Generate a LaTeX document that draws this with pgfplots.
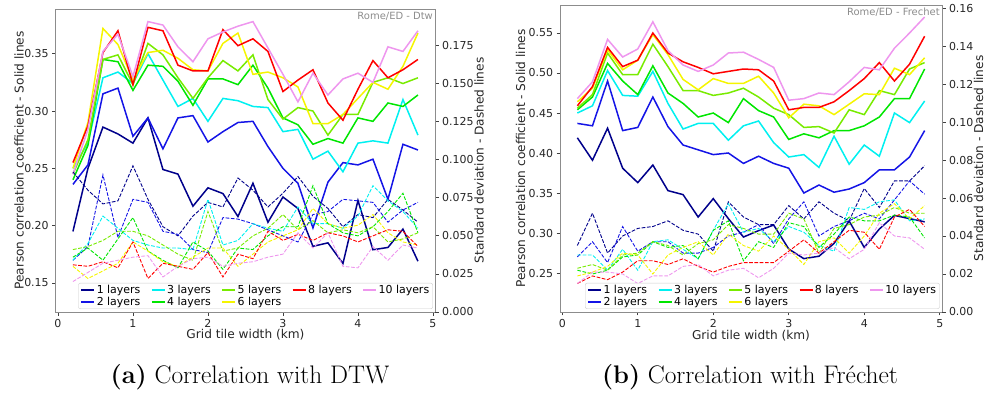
\documentclass[border=0pt]{standalone}
\usepackage{fontspec}
\setsansfont{DejaVu Sans}
\usepackage{pgfplots}
\usepackage{pgfplotstable}
\pgfplotsset{compat=1.18}

\definecolor{c1}{RGB}{0,0,139}
\definecolor{c2}{RGB}{20,20,230}
\definecolor{c3}{RGB}{0,240,240}
\definecolor{c4}{RGB}{0,230,0}
\definecolor{c5}{RGB}{120,235,0}
\definecolor{c6}{RGB}{245,245,0}
\definecolor{c8}{RGB}{255,0,0}
\definecolor{c10}{RGB}{238,150,238}

\pgfplotstableread{
x s1 s2 s3 s4 s5 s6 s8 s10
0.2 0.195 0.236 0.250 0.240 0.245 0.250 0.255 0.245
0.4 0.250 0.253 0.272 0.270 0.275 0.290 0.287 0.284
0.6 0.286 0.315 0.329 0.345 0.345 0.372 0.351 0.352
0.8 0.280 0.320 0.334 0.343 0.349 0.358 0.370 0.367
1.0 0.272 0.278 0.324 0.318 0.323 0.327 0.323 0.330
1.2 0.294 0.294 0.350 0.340 0.359 0.351 0.373 0.378
1.4 0.249 0.267 0.327 0.339 0.349 0.353 0.370 0.375
1.6 0.245 0.294 0.304 0.326 0.329 0.346 0.340 0.356
1.8 0.217 0.296 0.311 0.305 0.311 0.336 0.335 0.343
2.0 0.233 0.273 0.291 0.328 0.329 0.335 0.335 0.363
2.2 0.228 0.282 0.311 0.328 0.344 0.359 0.371 0.369
2.4 0.208 0.290 0.309 0.323 0.335 0.368 0.357 0.374
2.6 0.237 0.291 0.304 0.340 0.349 0.332 0.363 0.378
2.8 0.203 0.269 0.303 0.320 0.310 0.334 0.352 0.355
3.0 0.225 0.250 0.282 0.294 0.293 0.329 0.317 0.332
3.2 0.215 0.237 0.284 0.288 0.303 0.321 0.327 0.308
3.4 0.182 0.198 0.258 0.271 0.300 0.289 0.336 0.333
3.6 0.185 0.238 0.265 0.276 0.279 0.289 0.307 0.314
3.8 0.167 0.255 0.247 0.272 0.297 0.297 0.292 0.328
4.0 0.222 0.253 0.272 0.294 0.297 0.311 0.319 0.333
4.2 0.179 0.258 0.274 0.291 0.325 0.325 0.344 0.325
4.4 0.181 0.223 0.272 0.307 0.329 0.319 0.329 0.356
4.6 0.197 0.271 0.310 0.304 0.324 0.339 0.336 0.352
4.8 0.169 0.266 0.279 0.314 0.329 0.368 0.345 0.370
}\dtwS

\pgfplotstableread{
x d1 d2 d3 d4 d5 d6 d8 d10
0.2 0.092 0.034 0.034 0.036 0.041 0.030 0.031 0.020
0.4 0.080 0.043 0.045 0.042 0.043 0.022 0.030 0.026
0.6 0.071 0.090 0.063 0.034 0.047 0.027 0.033 0.032
0.8 0.073 0.049 0.055 0.048 0.053 0.032 0.029 0.034
1.0 0.096 0.074 0.047 0.062 0.053 0.046 0.046 0.036
1.2 0.074 0.072 0.044 0.040 0.050 0.040 0.022 0.037
1.4 0.056 0.053 0.042 0.034 0.044 0.033 0.032 0.023
1.6 0.050 0.051 0.042 0.029 0.038 0.030 0.030 0.030
1.8 0.063 0.041 0.041 0.046 0.034 0.036 0.028 0.035
2.0 0.072 0.039 0.074 0.040 0.066 0.042 0.039 0.036
2.2 0.069 0.062 0.044 0.028 0.040 0.042 0.023 0.030
2.4 0.088 0.061 0.047 0.042 0.042 0.030 0.038 0.032
2.6 0.080 0.058 0.058 0.041 0.050 0.038 0.035 0.033
2.8 0.069 0.054 0.055 0.050 0.055 0.046 0.053 0.036
3.0 0.078 0.050 0.053 0.056 0.064 0.050 0.047 0.038
3.2 0.089 0.046 0.069 0.056 0.054 0.054 0.051 0.052
3.4 0.076 0.064 0.058 0.083 0.060 0.068 0.047 0.042
3.6 0.068 0.066 0.058 0.058 0.052 0.058 0.052 0.052
3.8 0.056 0.074 0.055 0.052 0.054 0.055 0.050 0.030
4.0 0.064 0.073 0.063 0.050 0.052 0.057 0.046 0.029
4.2 0.062 0.072 0.083 0.056 0.056 0.064 0.050 0.043
4.4 0.074 0.059 0.073 0.066 0.046 0.052 0.054 0.034
4.6 0.067 0.067 0.066 0.078 0.048 0.046 0.053 0.044
4.8 0.059 0.072 0.055 0.052 0.052 0.044 0.043 0.042
}\dtwD

\pgfplotstableread{
x s1 s2 s3 s4 s5 s6 s8 s10
0.2 0.419 0.437 0.450 0.454 0.456 0.464 0.459 0.468
0.4 0.391 0.434 0.459 0.470 0.473 0.481 0.483 0.489
0.6 0.431 0.490 0.503 0.512 0.525 0.529 0.532 0.542
0.8 0.381 0.428 0.472 0.490 0.498 0.504 0.508 0.520
1.0 0.363 0.432 0.471 0.473 0.498 0.516 0.516 0.530
1.2 0.385 0.470 0.502 0.509 0.536 0.548 0.550 0.564
1.4 0.353 0.433 0.462 0.475 0.508 0.523 0.525 0.528
1.6 0.348 0.410 0.430 0.462 0.478 0.492 0.514 0.510
1.8 0.320 0.404 0.437 0.445 0.478 0.479 0.507 0.502
2.0 0.343 0.398 0.437 0.450 0.472 0.493 0.499 0.510
2.2 0.318 0.400 0.416 0.438 0.475 0.487 0.502 0.525
2.4 0.295 0.387 0.434 0.468 0.481 0.487 0.505 0.526
2.6 0.303 0.396 0.440 0.453 0.470 0.496 0.504 0.517
2.8 0.310 0.387 0.413 0.445 0.456 0.475 0.490 0.507
3.0 0.280 0.381 0.395 0.417 0.448 0.444 0.454 0.466
3.2 0.268 0.350 0.398 0.424 0.432 0.461 0.457 0.468
3.4 0.271 0.360 0.382 0.419 0.433 0.459 0.457 0.475
3.6 0.287 0.351 0.421 0.428 0.425 0.448 0.464 0.473
3.8 0.315 0.355 0.386 0.428 0.454 0.461 0.478 0.489
4.0 0.282 0.363 0.410 0.434 0.448 0.474 0.493 0.507
4.2 0.305 0.379 0.396 0.445 0.478 0.473 0.513 0.504
4.4 0.322 0.379 0.450 0.468 0.473 0.506 0.490 0.531
4.6 0.318 0.395 0.438 0.468 0.505 0.498 0.511 0.550
4.8 0.314 0.428 0.465 0.505 0.513 0.519 0.546 0.570
}\frS

\pgfplotstableread{
x d1 d2 d3 d4 d5 d6 d8 d10
0.2 0.035 0.029 0.030 0.022 0.023 0.019 0.015 0.015
0.4 0.052 0.037 0.030 0.020 0.025 0.021 0.019 0.021
0.6 0.031 0.026 0.022 0.022 0.022 0.024 0.017 0.021
0.8 0.040 0.045 0.033 0.029 0.030 0.031 0.021 0.020
1.0 0.044 0.032 0.022 0.030 0.031 0.030 0.027 0.015
1.2 0.045 0.037 0.037 0.037 0.037 0.020 0.027 0.019
1.4 0.048 0.037 0.038 0.034 0.035 0.030 0.025 0.019
1.6 0.043 0.031 0.033 0.035 0.030 0.034 0.028 0.024
1.8 0.041 0.031 0.028 0.028 0.036 0.037 0.024 0.025
2.0 0.032 0.034 0.043 0.043 0.038 0.030 0.021 0.019
2.2 0.058 0.040 0.057 0.048 0.046 0.041 0.024 0.022
2.4 0.050 0.042 0.042 0.027 0.044 0.035 0.026 0.023
2.6 0.046 0.046 0.044 0.037 0.041 0.032 0.026 0.018
2.8 0.046 0.036 0.037 0.034 0.041 0.040 0.026 0.023
3.0 0.056 0.049 0.045 0.047 0.052 0.033 0.032 0.031
3.2 0.049 0.058 0.042 0.045 0.049 0.025 0.038 0.030
3.4 0.058 0.040 0.035 0.034 0.031 0.037 0.031 0.031
3.6 0.052 0.045 0.032 0.041 0.044 0.039 0.037 0.034
3.8 0.048 0.048 0.055 0.050 0.046 0.031 0.043 0.028
4.0 0.065 0.052 0.054 0.048 0.050 0.040 0.042 0.033
4.2 0.055 0.049 0.058 0.048 0.051 0.052 0.033 0.047
4.4 0.069 0.059 0.059 0.051 0.055 0.057 0.050 0.040
4.6 0.069 0.069 0.048 0.050 0.052 0.049 0.054 0.039
4.8 0.077 0.062 0.049 0.039 0.052 0.056 0.045 0.033
}\frD

\newcommand{\cf}{\sffamily\fontsize{12.2}{14}\selectfont}
\newcommand{\tf}{\sffamily\fontsize{11}{13}\selectfont}

\pgfplotsset{
  base/.style={
    scale only axis, anchor=south west,
    xmin=-0.03, xmax=5.03, xtick={0,1,2,3,4,5},
    tick align=outside, major tick length=3.5bp,
    tick style={black!75, line width=0.8bp},
    axis line style={black!45, line width=0.8bp},
    every tick label/.append style={font=\tf, text=black!85},
    label style={font=\cf, text=black!85},
    /pgf/number format/assume math mode=true,
    xlabel style={at={(axis description cs:0.5,-0.076)}, anchor=center},
    clip=true,
  },
  sol/.style={line width=1.5bp},
  das/.style={line width=0.9bp, dash pattern=on 3.7bp off 1.6bp},
  leg/.style={
    legend columns=5,
    legend cell align=left,
    legend image code/.code={\draw[##1, line width=1.8bp, solid] (0bp,0bp) -- (13bp,0bp);},
    legend style={at={(0.994,0.01)}, anchor=south east,
      font=\tf,
      draw=black!20, fill=white, fill opacity=0.8, text opacity=1,
      rounded corners=2bp, inner xsep=2bp, inner ysep=0.5bp,
      nodes={inner sep=1.5bp, fill=none},
      row sep=-1bp,
      /tikz/every even column/.append style={column sep=9bp}},
  },
}

\begin{document}
\begin{tikzpicture}
\path[use as bounding box] (0,0) rectangle (987bp,394bp);

% ---------------- panel (a) ----------------
\begin{axis}[base, at={(55.7bp,82bp)}, width=379.5bp, height=303bp,
  ymin=0.1247, ymax=0.389, ytick={0.15,0.2,0.25,0.3,0.35},
  yticklabel style={/pgf/number format/.cd, fixed, fixed zerofill, precision=2},
  xtick pos=bottom, ytick pos=left,
  xlabel={Grid tile width (km)},
  ylabel={Pearson correlation coefficient - Solid lines},
  ylabel style={at={(axis description cs:-0.0967,0.5)}, anchor=center}]
\addplot[sol, c1] table[x=x,y=s1]{\dtwS};
\addplot[sol, c2] table[x=x,y=s2]{\dtwS};
\addplot[sol, c3] table[x=x,y=s3]{\dtwS};
\addplot[sol, c4] table[x=x,y=s4]{\dtwS};
\addplot[sol, c5] table[x=x,y=s5]{\dtwS};
\addplot[sol, c6] table[x=x,y=s6]{\dtwS};
\addplot[sol, c8] table[x=x,y=s8]{\dtwS};
\addplot[sol, c10] table[x=x,y=s10]{\dtwS};
\end{axis}
\begin{axis}[base, leg, at={(55.7bp,82bp)}, width=379.5bp, height=303bp,
  axis x line=none, axis y line*=right,
  ymin=0, ymax=0.199, ytick={0,0.025,0.05,0.075,0.1,0.125,0.15,0.175},
  yticklabel style={/pgf/number format/.cd, fixed, fixed zerofill, precision=3},
  ylabel={Standard deviation - Dashed lines},
  ylabel style={at={(axis description cs:1.1154,0.5)}, anchor=center}]
\addplot[das, c1, forget plot] table[x=x,y=d1]{\dtwD};
\addplot[das, c2, forget plot] table[x=x,y=d2]{\dtwD};
\addplot[das, c3, forget plot] table[x=x,y=d3]{\dtwD};
\addplot[das, c4, forget plot] table[x=x,y=d4]{\dtwD};
\addplot[das, c5, forget plot] table[x=x,y=d5]{\dtwD};
\addplot[das, c6, forget plot] table[x=x,y=d6]{\dtwD};
\addplot[das, c8, forget plot] table[x=x,y=d8]{\dtwD};
\addplot[das, c10, forget plot] table[x=x,y=d10]{\dtwD};
\addlegendimage{c1}\addlegendentry{1 layers}
\addlegendimage{c3}\addlegendentry{3 layers}
\addlegendimage{c5}\addlegendentry{5 layers}
\addlegendimage{c8}\addlegendentry{8 layers}
\addlegendimage{c10}\addlegendentry{10 layers}
\addlegendimage{c2}\addlegendentry{2 layers}
\addlegendimage{c4}\addlegendentry{4 layers}
\addlegendimage{c6}\addlegendentry{6 layers}
\node[anchor=north east, font=\sffamily\fontsize{10}{12}\selectfont, text=black!45, inner sep=1bp] at (rel axis cs:0.997,0.993) {Rome/ED - Dtw};
\end{axis}

% ---------------- panel (b) ----------------
\begin{axis}[base, at={(560bp,82bp)}, width=382bp, height=307bp,
  ymin=0.2013, ymax=0.585, ytick={0.25,0.3,0.35,0.4,0.45,0.5,0.55},
  yticklabel style={/pgf/number format/.cd, fixed, fixed zerofill, precision=2},
  xtick pos=bottom, ytick pos=left,
  xlabel={Grid tile width (km)},
  ylabel={Pearson correlation coefficient - Solid lines},
  ylabel style={at={(axis description cs:-0.1034,0.5)}, anchor=center}]
\addplot[sol, c1] table[x=x,y=s1]{\frS};
\addplot[sol, c2] table[x=x,y=s2]{\frS};
\addplot[sol, c3] table[x=x,y=s3]{\frS};
\addplot[sol, c4] table[x=x,y=s4]{\frS};
\addplot[sol, c5] table[x=x,y=s5]{\frS};
\addplot[sol, c6] table[x=x,y=s6]{\frS};
\addplot[sol, c8] table[x=x,y=s8]{\frS};
\addplot[sol, c10] table[x=x,y=s10]{\frS};
\end{axis}
\begin{axis}[base, leg, at={(560bp,82bp)}, width=382bp, height=307bp,
  axis x line=none, axis y line*=right,
  ymin=0, ymax=0.1616, ytick={0,0.02,0.04,0.06,0.08,0.1,0.12,0.14,0.16},
  yticklabel style={/pgf/number format/.cd, fixed, fixed zerofill, precision=2},
  ylabel={Standard deviation - Dashed lines},
  ylabel style={at={(axis description cs:1.0955,0.5)}, anchor=center}]
\addplot[das, c1, forget plot] table[x=x,y=d1]{\frD};
\addplot[das, c2, forget plot] table[x=x,y=d2]{\frD};
\addplot[das, c3, forget plot] table[x=x,y=d3]{\frD};
\addplot[das, c4, forget plot] table[x=x,y=d4]{\frD};
\addplot[das, c5, forget plot] table[x=x,y=d5]{\frD};
\addplot[das, c6, forget plot] table[x=x,y=d6]{\frD};
\addplot[das, c8, forget plot] table[x=x,y=d8]{\frD};
\addplot[das, c10, forget plot] table[x=x,y=d10]{\frD};
\addlegendimage{c1}\addlegendentry{1 layers}
\addlegendimage{c3}\addlegendentry{3 layers}
\addlegendimage{c5}\addlegendentry{5 layers}
\addlegendimage{c8}\addlegendentry{8 layers}
\addlegendimage{c10}\addlegendentry{10 layers}
\addlegendimage{c2}\addlegendentry{2 layers}
\addlegendimage{c4}\addlegendentry{4 layers}
\addlegendimage{c6}\addlegendentry{6 layers}
\node[anchor=north east, font=\sffamily\fontsize{10}{12}\selectfont, text=black!45, inner sep=1bp] at (rel axis cs:0.997,0.993) {Rome/ED - Frechet};
\end{axis}

% captions
\node[anchor=base, font=\fontsize{25.5}{29}\selectfont, inner sep=0pt] at (250bp,10.7bp) {\textbf{(a)} Correlation with DTW};
\node[anchor=base, font=\fontsize{25.5}{29}\selectfont, inner sep=0pt] at (750bp,10.7bp) {\textbf{(b)} Correlation with Fréchet};
\end{tikzpicture}
\end{document}
